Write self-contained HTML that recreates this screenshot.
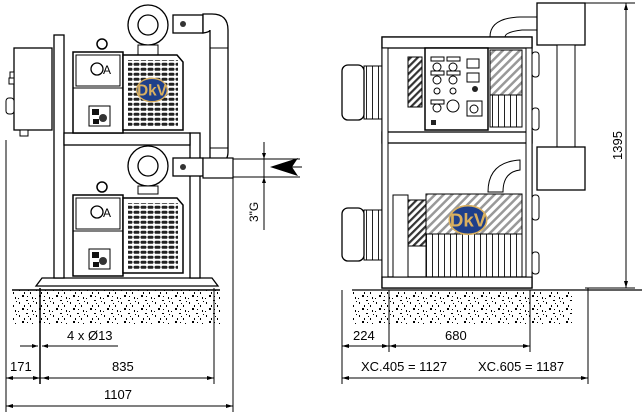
<!DOCTYPE html>
<html><head><meta charset="utf-8"><style>
html,body{margin:0;padding:0;background:#fff;}
svg{display:block;}
text{font-family:"Liberation Sans",sans-serif;font-size:13px;fill:#000;}
</style></head><body>
<svg width="642" height="418" viewBox="0 0 642 418" xmlns="http://www.w3.org/2000/svg">
<defs>
<pattern id="grille" width="7" height="5" patternUnits="userSpaceOnUse">
<rect x="0.5" y="0.8" width="6" height="3" rx="1.4" fill="#222"/>
</pattern>
<pattern id="hatch" width="6" height="6" patternUnits="userSpaceOnUse" patternTransform="rotate(45)">
<rect width="6" height="6" fill="#fff"/><rect width="2.5" height="6" fill="#999"/>
</pattern>
<pattern id="hatchd" width="5" height="5" patternUnits="userSpaceOnUse" patternTransform="rotate(45)">
<rect width="5" height="5" fill="#fff"/><rect width="2.2" height="5" fill="#333"/>
</pattern>
<pattern id="fins" width="6" height="10" patternUnits="userSpaceOnUse">
<rect x="0" y="0" width="1" height="10" fill="#222"/>
</pattern>
<pattern id="speck" width="17" height="13" patternUnits="userSpaceOnUse">
<rect x="2" y="3" width="1" height="2" fill="#000"/><rect x="9" y="1" width="2" height="1" fill="#000"/>
<rect x="13" y="6" width="1" height="2" fill="#000"/><rect x="5" y="9" width="2" height="2" fill="#000"/>
<rect x="15" y="11" width="1" height="2" fill="#000"/><rect x="10" y="10" width="1" height="1" fill="#000"/>
<rect x="16" y="2" width="1" height="1" fill="#000"/><rect x="7" y="6" width="1" height="2" fill="#000"/>
<rect x="1" y="12" width="1" height="1" fill="#000"/><rect x="11" y="4" width="1" height="1" fill="#000"/>
</pattern>
<g id="logo">
<ellipse cx="0" cy="0" rx="17" ry="13" fill="#1e3f8a" stroke="#d9b060" stroke-width="1.5"/>
<text x="0" y="6" text-anchor="middle" style="font-size:17px;font-weight:bold;fill:#d9b060">DkV</text>
</g>
<g id="pumpL">
<circle cx="102" cy="-8" r="5" fill="#fff" stroke="#000" stroke-width="1.5"/>
<rect x="73" y="0" width="50" height="81" fill="#fff" stroke="#000" stroke-width="1.5"/>
<rect x="76" y="3" width="44" height="31" fill="#fff" stroke="#000"/>
<circle cx="97" cy="17" r="6" fill="none" stroke="#000" stroke-width="1.3"/>
<text x="103" y="22" style="font-size:12px">A</text>
<line x1="73" y1="36" x2="123" y2="36" stroke="#000"/>
<rect x="89" y="54" width="21" height="20" fill="#fff" stroke="#000"/>
<rect x="92" y="57" width="7" height="6" fill="#111"/><circle cx="103" cy="66" r="4" fill="#333"/>
<rect x="93" y="67" width="6" height="5" fill="#111"/>
<path d="M123 3 H177 L183 10 V78 H123 Z" fill="#fff" stroke="#000" stroke-width="1.5"/>
<rect x="128" y="8" width="50" height="66" fill="url(#grille)"/>
</g>
</defs>

<!-- LEFT VIEW -->
<rect x="12" y="290" width="208" height="34" fill="url(#speck)"/>
<line x1="12" y1="290" x2="220" y2="290" stroke="#000" stroke-width="1.5"/>
<path d="M36 286 L42 278 H212 L218 286 Z" fill="#fff" stroke="#000" stroke-width="1.3"/>
<rect x="14" y="48" width="38" height="82" fill="#fff" stroke="#000" stroke-width="1.3"/>
<rect x="10" y="72" width="4" height="6" fill="#fff" stroke="#000"/>
<rect x="9" y="78" width="5" height="6" fill="#fff" stroke="#000"/>
<rect x="6" y="98" width="8" height="16" rx="3" fill="#fff" stroke="#000"/>
<rect x="20" y="130" width="8" height="6" fill="#fff" stroke="#000"/>
<rect x="54" y="35" width="10" height="243" fill="#fff" stroke="#000" stroke-width="1.3"/>
<rect x="190" y="133" width="10" height="145" fill="#fff" stroke="#000" stroke-width="1.3"/>
<rect x="64" y="133" width="126" height="12" fill="#fff" stroke="#000" stroke-width="1.3"/>
<circle cx="148" cy="25" r="20" fill="#fff" stroke="#000" stroke-width="1.3"/>
<circle cx="148" cy="25" r="10" fill="#fff" stroke="#000" stroke-width="1.3"/>
<rect x="138" y="45" width="20" height="10" fill="#fff" stroke="#000"/>
<rect x="173" y="15" width="30" height="18" fill="#fff" stroke="#000" stroke-width="1.3"/>
<circle cx="183" cy="24" r="3" fill="#333"/>
<path d="M203 14 H212 Q228 14 228 30 V152 Q228 162 219 162 H210 V30 Q210 32 203 33 Z" fill="#fff" stroke="#000" stroke-width="1.3"/>
<line x1="210" y1="48" x2="228" y2="48" stroke="#000"/>
<line x1="210" y1="148" x2="228" y2="148" stroke="#000"/>
<use href="#pumpL" transform="translate(0,52)"/>
<use href="#logo" transform="translate(152,90) scale(0.9)"/>
<circle cx="148" cy="166" r="20" fill="#fff" stroke="#000" stroke-width="1.3"/>
<circle cx="148" cy="166" r="10" fill="#fff" stroke="#000" stroke-width="1.3"/>
<rect x="138" y="186" width="20" height="8" fill="#fff" stroke="#000"/>
<rect x="173" y="158" width="30" height="18" fill="#fff" stroke="#000" stroke-width="1.3"/>
<circle cx="183" cy="167" r="3" fill="#333"/>
<use href="#pumpL" transform="translate(0,195)"/>
<rect x="203" y="158" width="30" height="20" fill="#fff" stroke="#000" stroke-width="1.2"/>
<line x1="233" y1="159" x2="300" y2="159" stroke="#000"/>
<line x1="233" y1="177" x2="300" y2="177" stroke="#000"/>
<line x1="264" y1="142" x2="264" y2="230" stroke="#000"/>
<path d="M264 159 l-2 -6 h4 z M264 177 l-2 6 h4 z" fill="#000"/>
<path d="M270 167 L298 158 L292 167 L298 176 Z" fill="#000"/>
<line x1="292" y1="167" x2="302" y2="167" stroke="#000"/>
<text transform="translate(258,222) rotate(-90)" style="font-size:12px">3"G</text>
<line x1="233" y1="177" x2="233" y2="412" stroke="#000"/>
<line x1="6" y1="140" x2="6" y2="412" stroke="#000"/>
<line x1="40" y1="288" x2="40" y2="384" stroke="#000" stroke-width="1.5"/>
<line x1="214" y1="288" x2="214" y2="384" stroke="#000"/>
<line x1="20" y1="346" x2="38" y2="346" stroke="#000"/><path d="M38 346 l-6 -2 v4z" fill="#000"/>
<line x1="42" y1="346" x2="118" y2="346" stroke="#000"/><path d="M42 346 l6 -2 v4z" fill="#000"/>
<text x="67" y="340">4 x Ø13</text>
<line x1="6" y1="378" x2="40" y2="378" stroke="#000"/><path d="M6 378 l7 -2 v4z M40 378 l-7 -2 v4z" fill="#000"/>
<line x1="40" y1="378" x2="214" y2="378" stroke="#000"/><path d="M42 378 l7 -2 v4z M214 378 l-7 -2 v4z" fill="#000"/>
<text x="10" y="371">171</text>
<text x="112" y="371">835</text>
<line x1="6" y1="406" x2="233" y2="406" stroke="#000"/><path d="M6 406 l7 -2 v4z M233 406 l-7 -2 v4z" fill="#000"/>
<text x="104" y="399">1107</text>

<!-- RIGHT VIEW -->
<rect x="352" y="291" width="220" height="33" fill="url(#speck)"/>
<line x1="352" y1="290" x2="642" y2="290" stroke="#000" stroke-width="1.3"/>
<path d="M490 37 Q490 18 520 17 H537 V30 H522 Q505 32 505 37 Z" fill="#fff" stroke="#000"/>
<rect x="537" y="3" width="48" height="42" fill="#fff" stroke="#000" stroke-width="1.3"/>
<rect x="557" y="45" width="18" height="102" fill="#fff" stroke="#000"/>
<rect x="537" y="147" width="48" height="43" fill="#fff" stroke="#000" stroke-width="1.3"/>
<path d="M488 192 Q488 162 520 160 H520 V170 Q503 172 503 192 Z" fill="#fff" stroke="#000"/>
<rect x="342" y="65" width="22" height="55" rx="6" fill="#fff" stroke="#000" stroke-width="1.3"/>
<rect x="364" y="66" width="22" height="53" fill="url(#fins)" stroke="#000"/>
<rect x="342" y="208" width="22" height="53" rx="6" fill="#fff" stroke="#000" stroke-width="1.3"/>
<rect x="364" y="210" width="22" height="50" fill="url(#fins)" stroke="#000"/>
<rect x="382" y="37" width="150" height="251" fill="none" stroke="#000" stroke-width="1.3"/>
<rect x="382" y="37" width="150" height="11" fill="#fff" stroke="#000" stroke-width="1.3"/>
<rect x="382" y="132" width="150" height="11" fill="#fff" stroke="#000" stroke-width="1.3"/>
<rect x="382" y="277" width="150" height="11" fill="#fff" stroke="#000" stroke-width="1.3"/>
<rect x="382" y="48" width="6" height="229" fill="#fff" stroke="#000"/>
<rect x="526" y="48" width="6" height="229" fill="#fff" stroke="#000"/>
<rect x="408" y="57" width="14" height="50" fill="url(#hatchd)" stroke="#000"/>
<rect x="490" y="50" width="32" height="45" fill="url(#hatch)" stroke="#000"/>
<rect x="490" y="95" width="32" height="32" fill="url(#fins)" stroke="#000"/>
<rect x="532" y="52" width="7" height="25" rx="3" fill="#fff" stroke="#000"/>
<rect x="532" y="108" width="7" height="22" rx="3" fill="#fff" stroke="#000"/>
<rect x="425" y="48" width="63" height="82" fill="#fff" stroke="#000" stroke-width="1.5"/>
<g fill="#fff" stroke="#000">
<rect x="431" y="57" width="13" height="4"/><rect x="447" y="57" width="13" height="4"/>
<circle cx="437" cy="67" r="4"/><circle cx="453" cy="67" r="4"/>
<rect x="431" y="71" width="13" height="4"/><rect x="447" y="71" width="13" height="4"/>
<circle cx="437" cy="80" r="4"/><circle cx="453" cy="80" r="4"/>
<rect x="467" y="59" width="12" height="9"/><rect x="467" y="73" width="12" height="9"/>
<circle cx="437" cy="91" r="3"/><circle cx="453" cy="91" r="3"/>
<rect x="431" y="100" width="13" height="4"/>
<circle cx="437" cy="108" r="4"/><circle cx="453" cy="106" r="6"/>
<rect x="467" y="101" width="15" height="15"/><circle cx="474" cy="109" r="4"/>
</g>
<circle cx="475" cy="89" r="3" fill="#222"/>
<rect x="431" y="120" width="5" height="5" fill="#222"/>
<rect x="408" y="200" width="18" height="46" fill="url(#hatchd)" stroke="#000"/>
<rect x="426" y="194" width="96" height="40" fill="url(#hatch)" stroke="#000"/>
<rect x="426" y="234" width="96" height="43" fill="url(#fins)" stroke="#000"/>
<rect x="393" y="195" width="15" height="82" fill="#fff" stroke="#000"/>
<rect x="532" y="195" width="7" height="25" rx="3" fill="#fff" stroke="#000"/>
<rect x="532" y="252" width="7" height="22" rx="3" fill="#fff" stroke="#000"/>
<use href="#logo" transform="translate(468,220) scale(1.1)"/>
<line x1="585" y1="3" x2="635" y2="3" stroke="#000"/>
<line x1="585" y1="288" x2="635" y2="288" stroke="#000"/>
<line x1="626" y1="3" x2="626" y2="288" stroke="#000"/><path d="M626 3 l-2 7 h4z M626 288 l-2 -7 h4z" fill="#000"/>
<text transform="translate(622,160) rotate(-90)">1395</text>
<line x1="342" y1="290" x2="342" y2="384" stroke="#000"/>
<line x1="389" y1="290" x2="389" y2="352" stroke="#000"/>
<line x1="530" y1="290" x2="530" y2="352" stroke="#000"/>
<line x1="588" y1="288" x2="588" y2="384" stroke="#000"/>
<line x1="342" y1="346" x2="530" y2="346" stroke="#000"/>
<path d="M342 346 l7 -2 v4z M389 346 l-7 -2 v4z M389 346 l7 -2 v4z M530 346 l-7 -2 v4z" fill="#000"/>
<text x="353" y="340">224</text>
<text x="445" y="340">680</text>
<line x1="342" y1="378" x2="588" y2="378" stroke="#000"/>
<path d="M342 378 l7 -2 v4z M588 378 l-7 -2 v4z" fill="#000"/>
<text x="361" y="371">XC.405 = 1127</text>
<text x="478" y="371">XC.605 = 1187</text>
</svg>
</body></html>
